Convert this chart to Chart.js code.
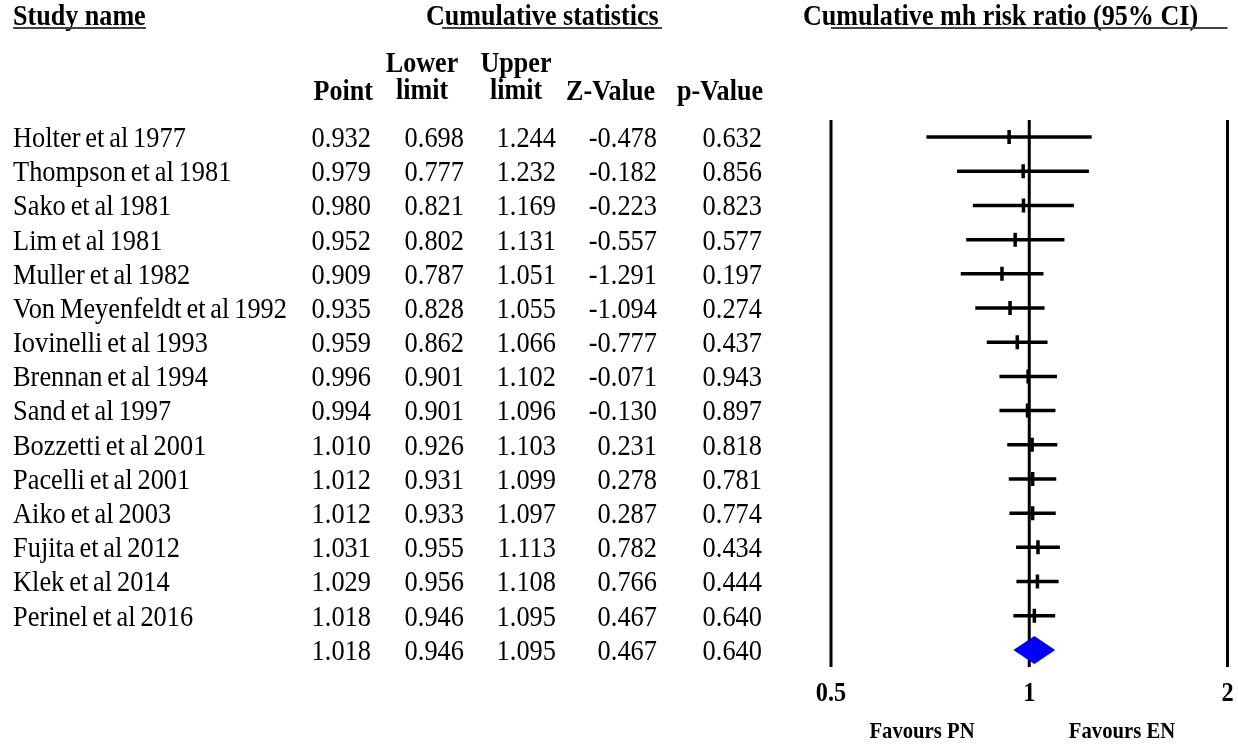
<!DOCTYPE html>
<html>
<head>
<meta charset="utf-8">
<script src="https://cdn.jsdelivr.net/npm/chart.js@4"></script>
<style>
  body { margin: 0; background: #fff; }
  #wrap { width: 1238px; height: 746px; position: relative; }
</style>
</head>
<body>
<div id="wrap"><canvas id="mycanvas"></canvas></div>
<script>
// study rows
var studies = ["Holter et al 1977", "Thompson et al 1981", "Sako et al 1981", "Lim et al 1981",
  "Muller et al 1982", "Von Meyenfeldt et al 1992", "Iovinelli et al 1993", "Brennan et al 1994",
  "Sand et al 1997", "Bozzetti et al 2001", "Pacelli et al 2001", "Aiko et al 2003",
  "Fujita et al 2012", "Klek et al 2014", "Perinel et al 2016"];
var pointEst = [0.932, 0.979, 0.980, 0.952, 0.909, 0.935, 0.959, 0.996, 0.994, 1.010, 1.012, 1.012, 1.031, 1.029, 1.018];
var lowerLim = [0.698, 0.777, 0.821, 0.802, 0.787, 0.828, 0.862, 0.901, 0.901, 0.926, 0.931, 0.933, 0.955, 0.956, 0.946];
var upperLim = [1.244, 1.232, 1.169, 1.131, 1.051, 1.055, 1.066, 1.102, 1.096, 1.103, 1.099, 1.097, 1.113, 1.108, 1.095];
var zValues = [-0.478, -0.182, -0.223, -0.557, -1.291, -1.094, -0.777, -0.071, -0.130, 0.231, 0.278, 0.287, 0.782, 0.766, 0.467];
var pValues = [0.632, 0.856, 0.823, 0.577, 0.197, 0.274, 0.437, 0.943, 0.897, 0.818, 0.781, 0.774, 0.434, 0.444, 0.640];

// overall (last row)
var summary = { point: 1.018, lower: 0.946, upper: 1.095, z: 0.467, p: 0.640 };

var axisTicks = [0.5, 1, 2];
var tickLabels = ["0.5", "1", "2"];

var SERIF = '"Liberation Serif", "Times New Roman", serif';
var nRows = studies.length + 1;

function txt(ctx, s, x, y, font, align, sx, ws) {
  ctx.save();
  ctx.font = font;
  ctx.textAlign = align;
  ctx.textBaseline = 'middle';
  ctx.fillStyle = '#000';
  if (ws) ctx.wordSpacing = ws;
  ctx.translate(x, y);
  ctx.scale(sx, 1);
  ctx.fillText(s, 0, 0);
  ctx.restore();
}

function hline(ctx, x1, x2, y) {
  ctx.save();
  ctx.strokeStyle = '#444';
  ctx.lineWidth = 2;
  ctx.beginPath();
  ctx.moveTo(x1, y);
  ctx.lineTo(x2, y);
  ctx.stroke();
  ctx.restore();
}

// CI segments, separated by gaps
var ciData = [];
for (var i in studies) {
  ciData.push({ x: lowerLim[i], y: +i });
  ciData.push({ x: upperLim[i], y: +i });
  ciData.push({ x: null, y: null });
}
var pointData = [];
for (var i in studies) {
  pointData.push({ x: pointEst[i], y: +i });
}

var forestPlugin = {
  id: 'forest',
  beforeDatasetsDraw: function(chart) {
    var ctx = chart.ctx, xs = chart.scales.x, area = chart.chartArea;
    ctx.save();
    ctx.strokeStyle = '#000';
    ctx.lineWidth = 3;
    axisTicks.forEach(function(t) {
      var px = xs.getPixelForValue(t);
      ctx.beginPath();
      ctx.moveTo(px, area.top);
      ctx.lineTo(px, area.bottom);
      ctx.stroke();
    });
    ctx.restore();
  },
  afterDatasetsDraw: function(chart) {
    var ctx = chart.ctx, xs = chart.scales.x, ys = chart.scales.y;
    // summary diamond
    var yy = ys.getPixelForValue(studies.length);
    ctx.save();
    ctx.fillStyle = '#0000ff';
    ctx.beginPath();
    ctx.moveTo(xs.getPixelForValue(summary.lower), yy);
    ctx.lineTo(xs.getPixelForValue(summary.point), yy - 14);
    ctx.lineTo(xs.getPixelForValue(summary.upper), yy);
    ctx.lineTo(xs.getPixelForValue(summary.point), yy + 14);
    ctx.closePath();
    ctx.fill();
    ctx.restore();
  },
  afterDraw: function(chart) {
    var ctx = chart.ctx, xs = chart.scales.x, ys = chart.scales.y, area = chart.chartArea;
    var bold = 'bold 30px ' + SERIF;
    var reg = '30px ' + SERIF;
    var sb = 0.87, sr = 0.88;

    // top headers
    txt(ctx, "Study name", 13, 17, bold, 'left', sb);
    hline(ctx, 13, 146, 28);
    txt(ctx, "Cumulative statistics", 426, 17, bold, 'left', sb);
    hline(ctx, 442, 662, 28);
    txt(ctx, "Cumulative mh risk ratio (95% CI)", 803, 17, bold, 'left', sb);
    hline(ctx, area.left, area.right, 28);

    // column headers
    txt(ctx, "Lower", 422, 64, bold, 'center', sb);
    txt(ctx, "Upper", 516, 64, bold, 'center', sb);
    txt(ctx, "Point", 373, 92, bold, 'right', sb);
    txt(ctx, "limit", 422, 91, bold, 'center', sb);
    txt(ctx, "limit", 516, 91, bold, 'center', sb);
    txt(ctx, "Z-Value", 655, 92, bold, 'right', sb);
    txt(ctx, "p-Value", 763, 92, bold, 'right', sb);

    // rows
    var cols = [371, 464, 556, 657, 762];
    for (var i = 0; i < nRows; i++) {
      var yy = ys.getPixelForValue(i) + 2;
      var vals;
      if (i < studies.length) {
        txt(ctx, studies[i], 13, yy, reg, 'left', sr, '-2px');
        vals = [pointEst[i], lowerLim[i], upperLim[i], zValues[i], pValues[i]];
      } else {
        vals = [summary.point, summary.lower, summary.upper, summary.z, summary.p];
      }
      for (var c = 0; c < 5; c++) {
        txt(ctx, vals[c].toFixed(3), cols[c], yy, reg, 'right', sr);
      }
    }

    // axis tick labels
    axisTicks.forEach(function(t, k) {
      txt(ctx, tickLabels[k], xs.getPixelForValue(t), 694, 'bold 28px ' + SERIF, 'center', sb);
    });
    txt(ctx, "Favours PN", 922, 732, 'bold 23px ' + SERIF, 'center', 0.9);
    txt(ctx, "Favours EN", 1122, 732, 'bold 23px ' + SERIF, 'center', 0.9);
  }
};

var ctx = document.getElementById('mycanvas');

var forest = new Chart(ctx, {
  type: 'scatter',
  data: {
    datasets: [
      {
        label: 'CI',
        data: ciData,
        showLine: true,
        spanGaps: false,
        borderColor: '#000',
        borderWidth: 3.5,
        pointRadius: 0,
        pointHoverRadius: 0
      },
      {
        label: 'Point',
        data: pointData,
        pointStyle: 'line',
        rotation: 90,
        radius: 7,
        hoverRadius: 7,
        borderColor: '#000',
        backgroundColor: '#000',
        borderWidth: 3.5
      }
    ]
  },
  plugins: [forestPlugin],
  options: {
    responsive: true,
    maintainAspectRatio: false,
    animation: false,
    events: [],
    layout: { padding: { left: 831, right: 9, top: 120, bottom: 79 } },
    plugins: { legend: { display: false }, tooltip: { enabled: false } },
    scales: {
      x: { type: 'logarithmic', min: 0.5, max: 2, display: false },
      y: { type: 'linear', min: -0.5, max: nRows - 0.5, reverse: true, display: false }
    }
  }
});
</script>
</body>
</html>
